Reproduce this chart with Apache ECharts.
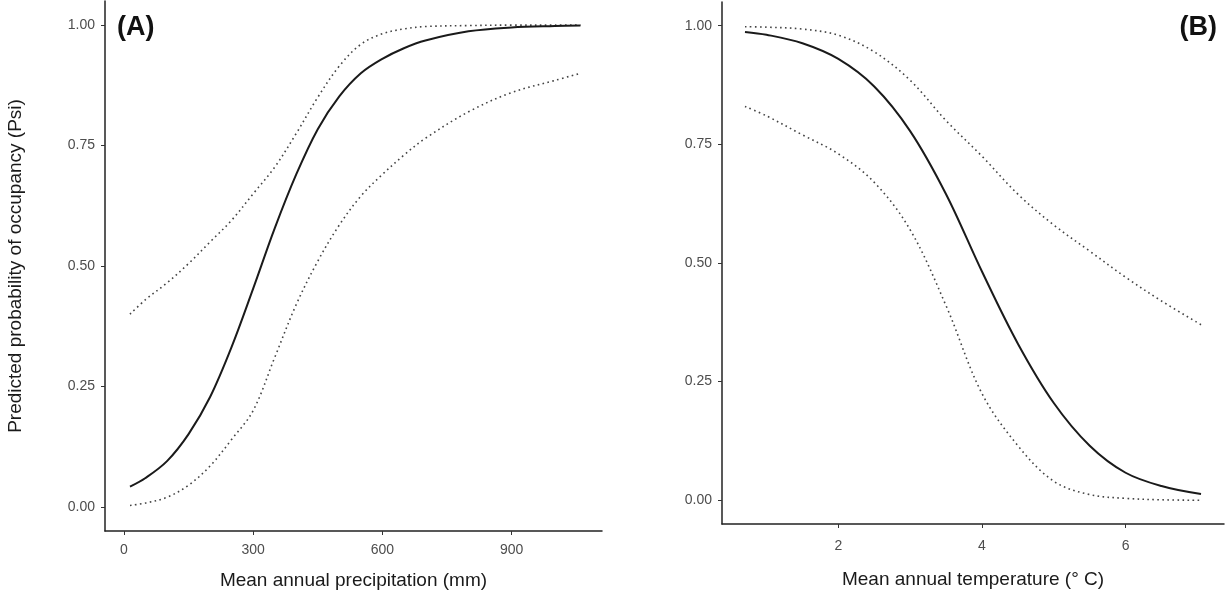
<!DOCTYPE html>
<html>
<head>
<meta charset="utf-8">
<script src="https://cdn.jsdelivr.net/npm/echarts@6/dist/echarts.min.js"></script>
<style>
  html, body { margin: 0; padding: 0; background: #fff; }
  #chart { width: 1226px; height: 600px; }
</style>
</head>
<body>
<div id="chart"></div>
<script>
// panel A: mean annual precipitation (mm)
const precipX = [14, 50, 100, 150, 200, 250, 300, 350, 400, 450, 500, 550, 600, 650, 700, 800, 900, 1000, 1060]
const precipFit = [0.042, 0.06, 0.095, 0.151, 0.228, 0.332, 0.453, 0.578, 0.69, 0.784, 0.852, 0.9, 0.93, 0.952, 0.968, 0.987, 0.995, 0.998, 0.999]
const precipLower = [0.003, 0.008, 0.02, 0.045, 0.085, 0.14, 0.2, 0.31, 0.42, 0.51, 0.585, 0.645, 0.69, 0.73, 0.765, 0.82, 0.86, 0.885, 0.9]
const precipUpper = [0.4, 0.43, 0.465, 0.505, 0.55, 0.595, 0.65, 0.705, 0.775, 0.85, 0.915, 0.96, 0.982, 0.992, 0.997, 0.999, 1.0, 1.0, 1.0]

// panel B: mean annual temperature (deg C)
const tempX = [0.7, 1.0, 1.5, 2.0, 2.5, 3.0, 3.5, 4.0, 4.5, 5.0, 5.5, 6.0, 6.5, 7.05]
const tempFit = [0.987, 0.981, 0.963, 0.93, 0.872, 0.778, 0.645, 0.482, 0.33, 0.205, 0.115, 0.058, 0.03, 0.013]
const tempLower = [0.83, 0.81, 0.77, 0.73, 0.67, 0.57, 0.41, 0.225, 0.115, 0.04, 0.012, 0.004, 0.001, 0.0]
const tempUpper = [0.998, 0.997, 0.993, 0.98, 0.945, 0.885, 0.8, 0.725, 0.645, 0.58, 0.525, 0.47, 0.42, 0.37]

const probTicks = [0, 0.25, 0.5, 0.75, 1]
const precipTicks = [0, 300, 600, 900]
const tempTicks = [2, 4, 6]

const font = 'Liberation Sans, Arial, sans-serif'
const pairs = (xs, ys) => xs.map((x, i) => [x, ys[i]])

function xAxisOf(idx, min, max, ticks, name, gap, margin) {
    return {
        type: 'value', gridIndex: idx, min: min, max: max,
        name: name, nameLocation: 'middle', nameGap: gap,
        nameTextStyle: { fontFamily: font, fontSize: 19, color: '#1a1a1a' },
        axisLine: { onZero: false, lineStyle: { color: '#222', width: 1.5 } },
        axisTick: { customValues: ticks, length: 4, lineStyle: { color: '#333' } },
        axisLabel: { customValues: ticks, fontFamily: font, fontSize: 14, color: '#4d4d4d', margin: margin },
        splitLine: { show: false }
    }
}
function yAxisOf(idx, name) {
    return {
        type: 'value', gridIndex: idx, min: -0.05, max: 1.05,
        name: name, nameLocation: 'middle', nameGap: 80,
        nameTextStyle: { fontFamily: font, fontSize: 19, color: '#1a1a1a' },
        axisLine: { show: true, onZero: false, lineStyle: { color: '#222', width: 1.5 } },
        axisTick: { show: true, customValues: probTicks, length: 4, lineStyle: { color: '#333' } },
        axisLabel: { customValues: probTicks, fontFamily: font, fontSize: 14, color: '#4d4d4d', margin: 10,
            formatter: v => v.toFixed(2) },
        splitLine: { show: false }
    }
}
function lineOf(idx, data, dotted) {
    return {
        type: 'line', xAxisIndex: idx, yAxisIndex: idx, data: data,
        showSymbol: false, smooth: 0.35, silent: true,
        z: dotted ? 2 : 3,
        lineStyle: dotted
            ? { color: '#444', width: 1.6, type: [1.6, 3.4] }
            : { color: '#1a1a1a', width: 2 }
    }
}

const chart = echarts.init(document.getElementById('chart'))
chart.setOption({
    backgroundColor: '#fff',
    animation: false,
    title: [
        { text: '(A)', left: 112, top: 9, textStyle: { fontFamily: font, fontSize: 27, fontWeight: 'bold', color: '#111' } },
        { text: '(B)', right: 4, top: 9, textStyle: { fontFamily: font, fontSize: 27, fontWeight: 'bold', color: '#111' } }
    ],
    grid: [
        { left: 105, right: 624, top: 1, bottom: 69 },
        { left: 722, right: 2, top: 2, bottom: 76 }
    ],
    xAxis: [
        xAxisOf(0, -44, 1110, precipTicks, 'Mean annual precipitation (mm)', 40, 12),
        xAxisOf(1, 0.38, 7.37, tempTicks, 'Mean annual temperature (\u00b0 C)', 46, 15)
    ],
    yAxis: [
        yAxisOf(0, 'Predicted probability of occupancy (Psi)'),
        yAxisOf(1, '')
    ],
    series: [
        lineOf(0, pairs(precipX, precipLower), true),
        lineOf(0, pairs(precipX, precipUpper), true),
        lineOf(0, pairs(precipX, precipFit), false),
        lineOf(1, pairs(tempX, tempLower), true),
        lineOf(1, pairs(tempX, tempUpper), true),
        lineOf(1, pairs(tempX, tempFit), false)
    ]
})
</script>
</body>
</html>
